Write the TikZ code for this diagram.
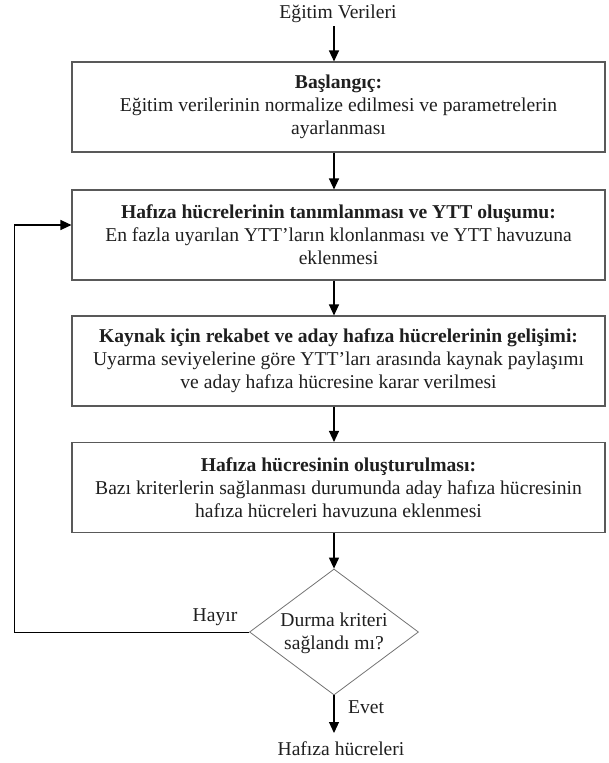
\documentclass[tikz,border=0pt]{standalone}
\usepackage{fontspec}
\setmainfont{Liberation Serif}
\usetikzlibrary{arrows.meta,shapes.geometric,calc}
\begin{document}
\begin{tikzpicture}[x=1pt,y=-1pt,
  every node/.style={font=\fontsize{19.6}{23}\selectfont, text=black!88},
  procbox/.style={draw=black!65, line width=1.1pt, minimum width=533pt, minimum height=90pt, align=center, inner sep=0pt},
  decide/.style={draw=black!55, line width=0.8pt, shape=diamond, minimum width=169pt, minimum height=126pt, inner sep=0pt},
  plain/.style={inner sep=0pt, align=center},
  arr/.style={line width=1.2pt, draw=black, -{Triangle[length=11pt,width=10pt]}},
  ln/.style={line width=1pt, draw=black}
]
\useasboundingbox (0,0) rectangle (608,763);
\node[plain] (t) at (338,14) {Eğitim Verileri};
\node[procbox] (b1) at (338.5,107) {\textbf{Başlangıç:}\\Eğitim verilerinin normalize edilmesi ve parametrelerin\\ayarlanması};
\node[procbox] (b2) at (338.5,235) {\textbf{Hafıza hücrelerinin tanımlanması ve YTT oluşumu:}\\En fazla uyarılan YTT’ların klonlanması ve YTT havuzuna\\eklenmesi};
\node[procbox] (b3) at (338.5,361) {\textbf{Kaynak için rekabet ve aday hafıza hücrelerinin gelişimi:}\\Uyarma seviyelerine göre YTT’ları arasında kaynak paylaşımı\\ve aday hafıza hücresine karar verilmesi};
\node[procbox] (b4) at (338.5,487.5) {\textbf{Hafıza hücresinin oluşturulması:}\\Bazı kriterlerin sağlanması durumunda aday hafıza hücresinin\\hafıza hücreleri havuzuna eklenmesi};
\node[decide] (d) at (334,632) {};
\node[plain] (dt) at (334,633) {Durma kriteri\\sağlandı mı?};
\node[plain] (out) at (341,749) {Hafıza hücreleri};
\node[plain] (hay) at (215,617) {Hayır};
\node[plain, anchor=west] (ev) at (348,707) {Evet};
\coordinate (fb) at (14,225);
\coordinate (top) at (334,26);
\coordinate (bot) at (334,733);

\draw[arr] (top) -- (top |- b1.north);
\draw[arr] (top |- b1.south) -- (top |- b2.north);
\draw[arr] (top |- b2.south) -- (top |- b3.north);
\draw[arr] (top |- b3.south) -- (top |- b4.north);
\draw[arr] (top |- b4.south) -- (d.north);
\draw[arr] (d.south) -- (bot);
\draw[ln] (d.west) -| (fb);
\draw[arr] (fb) -- (fb -| b2.west);
\end{tikzpicture}
\end{document}
